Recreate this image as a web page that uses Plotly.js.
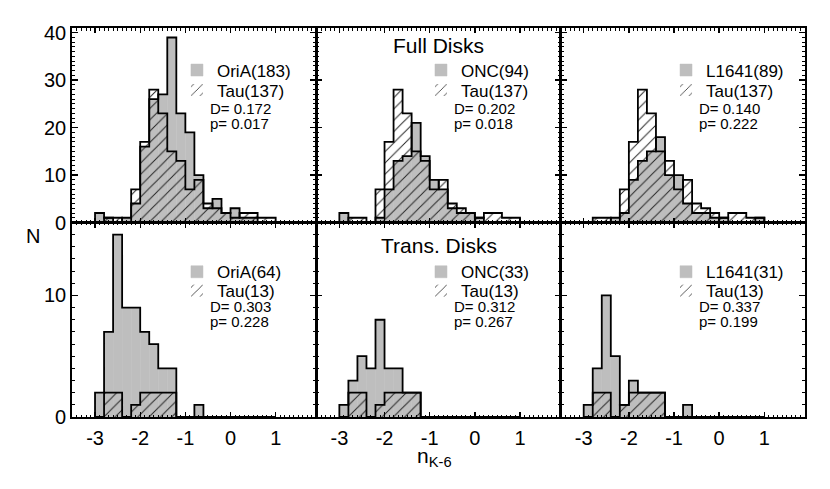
<!DOCTYPE html>
<html>
<head>
<meta charset="utf-8">
<script src="https://cdn.plot.ly/plotly-3.0.1.min.js"></script>
<style>
  html, body { margin: 0; padding: 0; background: #fff; }
  #chart { width: 830px; height: 489px; }
</style>
</head>
<body>
<div id="chart"></div>
<script>
// n_K-6 histogram bins (width 0.2, from -3.0 to 1.0)
const binCenters = [-2.9, -2.7, -2.5, -2.3, -2.1, -1.9, -1.7, -1.5, -1.3, -1.1,
                    -0.9, -0.7, -0.5, -0.3, -0.1, 0.1, 0.3, 0.5, 0.7, 0.9];
const binWidth = 0.2;

// full disks
const fullOriA  = [2, 1, 0, 1, 4, 16, 26, 27, 39, 23, 19, 10, 3, 5, 2, 3, 1, 1, 0, 0];
const fullONC   = [2, 0, 0, 0, 1, 7, 13, 14, 21, 14, 9, 7, 3, 2, 2, 1, 0, 0, 0, 0];
const fullL1641 = [0, 0, 0, 1, 2, 9, 13, 15, 18, 10, 10, 4, 2, 2, 1, 1, 0, 0, 0, 1];
const fullTau   = [0, 1, 1, 0, 7, 17, 28, 23, 15, 13, 7, 9, 4, 3, 2, 1, 2, 2, 1, 1];

// transition disks
const transOriA  = [2, 7, 15, 9, 9, 7, 6, 4, 4, 0, 0, 1, 0, 0, 0, 0, 0, 0, 0, 0];
const transONC   = [1, 3, 5, 4, 8, 4, 4, 2, 2, 0, 0, 0, 0, 0, 0, 0, 0, 0, 0, 0];
const transL1641 = [1, 4, 10, 5, 1, 3, 2, 2, 2, 0, 0, 1, 0, 0, 0, 0, 0, 0, 0, 0];
const transTau   = [0, 2, 2, 0, 1, 2, 2, 2, 2, 0, 0, 0, 0, 0, 0, 0, 0, 0, 0, 0];

// panel labels, left to right, top row first
const regionNames = ['OriA(183)', 'ONC(94)', 'L1641(89)', 'OriA(64)', 'ONC(33)', 'L1641(31)'];
const tauNames    = ['Tau(137)', 'Tau(137)', 'Tau(137)', 'Tau(13)', 'Tau(13)', 'Tau(13)'];
const ksD = ['0.172', '0.202', '0.140', '0.303', '0.312', '0.337'];
const ksP = ['0.017', '0.018', '0.222', '0.228', '0.267', '0.199'];
const rowTitles = ['Full Disks', 'Trans. Disks'];
const xTicks = [-3, -2, -1, 0, 1];

const regionCounts = [fullOriA, fullONC, fullL1641, transOriA, transONC, transL1641];
const tauCounts = [fullTau, fullTau, fullTau, transTau, transTau, transTau];

const GRAY = '#bebebe';
const FONT = 'Liberation Sans, Arial, Helvetica, sans-serif';

// step outline of a histogram, like IDL psym=10 with closed ends
function stepOutline(counts) {
    const xs = [], ys = [];
    const left = binCenters[0] - binWidth / 2;
    const right = binCenters[binCenters.length - 1] + binWidth / 2;
    xs.push(left); ys.push(0);
    counts.forEach((c, i) => { xs.push(binCenters[i] - binWidth / 2); ys.push(c); });
    xs.push(right); ys.push(counts[counts.length - 1]);
    xs.push(right); ys.push(0);
    return { xs, ys };
}

const traces = [];
const layout = {
    width: 830, height: 489,
    margin: { l: 72, r: 25, t: 28, b: 72 },
    paper_bgcolor: '#fff', plot_bgcolor: '#fff',
    barmode: 'overlay', bargap: 0,
    font: { family: FONT, color: '#000', size: 20 },
    showlegend: true,
    annotations: []
};

function legendBox(x, y) {
    return {
        x: x, y: y, xref: 'paper', yref: 'paper',
        xanchor: 'left', yanchor: 'top', bgcolor: 'rgba(0,0,0,0)',
        font: { family: FONT, size: 17, color: '#000' },
        tracegroupgap: 0, itemclick: false, itemdoubleclick: false
    };
}

for (let i = 0; i < 6; i++) {
    const n = i + 1;
    const row = Math.floor(i / 3), col = i % 3;
    const xa = 'x' + (n === 1 ? '' : n), ya = 'y' + (n === 1 ? '' : n);
    // two one-entry legends per panel so the rows sit close together
    const legA = 2 * i + 1 === 1 ? 'legend' : 'legend' + (2 * i + 1);
    const legB = 'legend' + (2 * i + 2);

    traces.push({
        type: 'bar', x: binCenters, y: regionCounts[i], width: binWidth,
        xaxis: xa, yaxis: ya, legend: legA, name: regionNames[i],
        marker: { color: GRAY, line: { color: GRAY, width: 0.5 } },
        hoverinfo: 'skip'
    });
    traces.push({
        type: 'bar', x: binCenters, y: tauCounts[i], width: binWidth,
        xaxis: xa, yaxis: ya, legend: legB, name: tauNames[i],
        marker: {
            color: 'rgba(0,0,0,0)',
            line: { color: 'rgba(0,0,0,0)', width: 0 },
            pattern: { shape: '/', fgcolor: '#222', bgcolor: 'rgba(0,0,0,0)', size: 8, solidity: 0.12, fillmode: 'replace' }
        },
        hoverinfo: 'skip'
    });
    [regionCounts[i], tauCounts[i]].forEach(counts => {
        const s = stepOutline(counts);
        traces.push({
            type: 'scatter', mode: 'lines', x: s.xs, y: s.ys,
            xaxis: xa, yaxis: ya, showlegend: false, hoverinfo: 'skip',
            line: { shape: 'hv', color: '#000', width: 1.8 }
        });
    });

    const axBase = {
        showline: true, linecolor: '#000', linewidth: 1.8, mirror: 'allticks',
        ticks: 'inside', tickcolor: '#000', tickwidth: 1.4,
        showgrid: false, zeroline: false, fixedrange: true
    };
    layout['xaxis' + (n === 1 ? '' : n)] = Object.assign({}, axBase, {
        domain: [col / 3, (col + 1) / 3], anchor: ya,
        range: [-3.51, 1.90], tickmode: 'array', tickvals: xTicks,
        ticktext: xTicks.map(String), ticklen: 5,
        showticklabels: row === 1, ticklabelstandoff: 2,
        minor: { ticks: 'inside', dtick: 0.1, tick0: 0, ticklen: 2.5, tickwidth: 1, tickcolor: '#000' }
    });
    const yMax = row === 0 ? 41 : 16;
    const yTicks = row === 0 ? [0, 10, 20, 30, 40] : [0, 10];
    layout['yaxis' + (n === 1 ? '' : n)] = Object.assign({}, axBase, {
        domain: row === 0 ? [0.5, 1] : [0, 0.5], anchor: xa,
        range: [0, yMax], tickmode: 'array', tickvals: yTicks,
        ticktext: yTicks.map(String), ticklen: 6,
        showticklabels: col === 0,
        minor: { ticks: 'inside', dtick: 1, tick0: 0, ticklen: 3, tickwidth: 1, tickcolor: '#000' }
    });

    const legX = [0.1432, 0.4761, 0.8104][col];
    layout[legA] = legendBox(legX, row === 0 ? 0.937 : 0.4185);
    layout[legB] = legendBox(legX, row === 0 ? 0.886 : 0.370);

    // KS statistics
    const dY = row === 0 ? 0.588 : 0.568;
    const pY = row === 0 ? 0.510 : 0.490;
    layout.annotations.push(
        { xref: xa + ' domain', yref: ya + ' domain', x: 0.557, y: dY, xanchor: 'left', yanchor: 'middle',
          text: 'D= ' + ksD[i], showarrow: false, font: { family: FONT, size: 15, color: '#000' } },
        { xref: xa + ' domain', yref: ya + ' domain', x: 0.557, y: pY, xanchor: 'left', yanchor: 'middle',
          text: 'p= ' + ksP[i], showarrow: false, font: { family: FONT, size: 15, color: '#000' } }
    );
    if (col === 1) {
        layout.annotations.push({
            xref: xa + ' domain', yref: ya + ' domain', x: 0.5, y: row === 0 ? 0.908 : 0.88,
            xanchor: 'center', yanchor: 'middle', text: rowTitles[row], showarrow: false,
            font: { family: FONT, size: 21, color: '#000' }
        });
    }
}

// axis labels
layout.annotations.push(
    { xref: 'paper', yref: 'paper', x: -0.0532, y: 0.465, xanchor: 'center', yanchor: 'middle',
      text: 'N', showarrow: false, font: { family: FONT, size: 20, color: '#000' } },
    { xref: 'paper', yref: 'paper', x: 0.495, y: -0.103, xanchor: 'center', yanchor: 'middle',
      text: 'n<sub>K-6</sub>', showarrow: false, font: { family: FONT, size: 21, color: '#000' } }
);

Plotly.newPlot('chart', traces, layout, { displayModeBar: false, staticPlot: true });
</script>
</body>
</html>
